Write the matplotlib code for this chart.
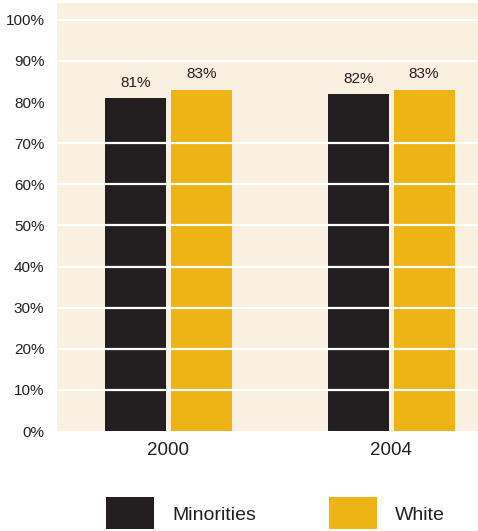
import numpy as np
import matplotlib.pyplot as plt

plt.rcParams['font.family'] = ['Liberation Sans', 'DejaVu Sans']

years = ["2000", "2004"]
minorities = [81, 82]
white = [83, 83]
yticks = [0, 10, 20, 30, 40, 50, 60, 70, 80, 90, 100]
# the original has no grid line at 80%
grid_at = [10, 20, 30, 40, 50, 60, 70, 90, 100]

text_col = "#231F20"
black_col = "#231F20"
gold_col = "#EEB315"
bg_col = "#FAF0E1"

fig = plt.figure(figsize=(4.78, 5.31), dpi=100)
ax = fig.add_axes([0.119, 0.1883, 0.881, 0.8060])
ax.set_facecolor(bg_col)

x = np.arange(len(years))
w = 0.274
off = 0.148
b1 = ax.bar(x - off, minorities, w, color=black_col, label="Minorities", zorder=2)
b2 = ax.bar(x + off, white, w, color=gold_col, label="White", zorder=2)

# white grid lines drawn over the bars
for t in grid_at:
    ax.axhline(t, color="white", lw=1.6, zorder=3)

for bars, vals in [(b1, minorities), (b2, white)]:
    for r, v in zip(bars, vals):
        ax.annotate(f"{v}%", (r.get_x() + r.get_width() / 2, v),
                    xytext=(0, 6), textcoords="offset points",
                    ha="center", va="bottom", fontsize=11, color=text_col)

ax.set_xlim(-0.5, 1.39)
ax.set_ylim(0, 104.1)
ax.set_yticks(yticks)
ax.set_yticklabels([f"{t}%" for t in yticks], fontsize=11, color=text_col)
ax.set_xticks(x)
ax.set_xticklabels(years, fontsize=13.5, color=text_col)
ax.tick_params(axis="both", length=0)
ax.tick_params(axis="y", pad=9)
ax.tick_params(axis="x", pad=8)
for s in ax.spines.values():
    s.set_visible(False)

fig.legend(handles=[b1, b2], loc="lower left", bbox_to_anchor=(0.2218, 0.003),
           ncol=2, frameon=False, fontsize=14, handlelength=2.47, handleheight=2.15,
           handletextpad=0.93, columnspacing=3.75, borderpad=0, borderaxespad=0,
           labelcolor=text_col)

plt.savefig("out.png", dpi=100)
